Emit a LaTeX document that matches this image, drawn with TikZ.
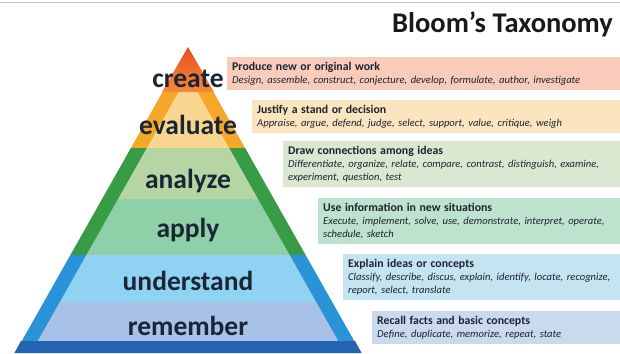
\documentclass[tikz,border=0pt]{standalone}
\usepackage{fontspec}
\setmainfont{Carlito}
\usetikzlibrary{positioning}
\definecolor{cInk}{HTML}{1E2430}
\definecolor{cNavy}{HTML}{1A2535}
\definecolor{cRedO}{HTML}{EB4C25}
\definecolor{cRedI}{HTML}{F58A38}
\definecolor{cYelO}{HTML}{F5A72A}
\definecolor{cYelI}{HTML}{F9D690}
\definecolor{cGrnO}{HTML}{379C45}
\definecolor{cGrnA}{HTML}{B5D6A2}
\definecolor{cGrnB}{HTML}{8FD0A8}
\definecolor{cBluO}{HTML}{2A92D6}
\definecolor{cBluA}{HTML}{8FD2F2}
\definecolor{cBluB}{HTML}{A7C1E7}
\definecolor{cBase}{HTML}{2364B2}
\definecolor{bxCreate}{HTML}{F8CBBB}
\definecolor{bxEval}{HTML}{FBE4C0}
\definecolor{bxAnal}{HTML}{DCE7D1}
\definecolor{bxApply}{HTML}{BDE3CF}
\definecolor{bxUnder}{HTML}{C4E4F1}
\definecolor{bxRem}{HTML}{C9D9EE}

\begin{document}
\begin{tikzpicture}[x=1pt,y=-1pt,
      lvl/.style={font=\fontsize{27.5}{30}\selectfont\bfseries,text=cNavy,anchor=base,inner sep=0pt},
      info/.style={anchor=north west,align=left,inner sep=5pt,text=cInk,
        font=\fontsize{10.6}{13}\selectfont}]
    \useasboundingbox (0,0) rectangle (620,353);
    \fill[white] (0,0) rectangle (620,353);
    \draw[black!25] (0,2.5) -- (620,2.5);
    % pyramid bands: top, bottom, outer colour, inner colour
    \foreach \ya/\yb/\co/\ci in {92/148/cYelO/cYelI,148/199/cGrnO/cGrnA,
        199/255/cGrnO/cGrnB,255/302/cBluO/cBluA,302/341/cBluO/cBluB}{
      \pgfmathsetmacro\wa{0.5654*(\ya-47)}
      \pgfmathsetmacro\wb{0.5654*(\yb-47)}
      \fill[\co] (188-\wa,\ya) -- (188+\wa,\ya) -- (188+\wb,\yb) -- (188-\wb,\yb) -- cycle;
      \fill[\ci] (204-\wa,\ya) -- (172+\wa,\ya) -- (172+\wb,\yb) -- (204-\wb,\yb) -- cycle;
    }
    \shade[top color=cRedO,bottom color=cRedI] (188,47) -- (214,92) -- (162,92) -- cycle;
    \fill[cBase] (21,341) -- (355,341) -- (361.6,353) -- (14.4,353) -- cycle;
    % level names
    \node[lvl] (create) at (188,87) {create};
    \node[lvl] (evaluate) at (188,134) {evaluate};
    \node[lvl] (analyze) at (188,188) {analyze};
    \node[lvl] (apply) at (188,237) {apply};
    \node[lvl] (understand) at (188,290) {understand};
    \node[lvl] (remember) at (188,335) {remember};
    \node[anchor=east,inner sep=0pt,text=black!90,font=\fontsize{28.5}{30}\selectfont\bfseries]
      (title) at (613,24) {Bloom’s Taxonomy};
    % description boxes (they run past the right edge, which crops them)
    \node[info,fill=bxCreate,text width=400pt,minimum height=31pt] (createbox) at (227,57)
      {{\fontsize{11.8}{13}\selectfont\bfseries Produce new or original work}\\
       \itshape Design, assemble, construct, conjecture, develop, formulate, author, investigate};
    \node[info,fill=bxEval,text width=375pt,minimum height=31pt] (evalbox) at (252,100)
      {{\fontsize{11.8}{13}\selectfont\bfseries Justify a stand or decision}\\
       \itshape Appraise, argue, defend, judge, select, support, value, critique, weigh};
    \node[info,fill=bxAnal,text width=345pt,minimum height=44pt] (analbox) at (283,141)
      {{\fontsize{11.8}{13}\selectfont\bfseries Draw connections among ideas}\\
       \itshape Differentiate, organize, relate, compare, contrast, distinguish, examine,\\
       \itshape experiment, question, test};
    \node[info,fill=bxApply,text width=310pt,minimum height=43pt] (applybox) at (318,198)
      {{\fontsize{11.8}{13}\selectfont\bfseries Use information in new situations}\\
       \itshape Execute, implement, solve, use, demonstrate, interpret, operate,\\
       \itshape schedule, sketch};
    \node[info,fill=bxUnder,text width=285pt,minimum height=43pt] (underbox) at (343,254)
      {{\fontsize{11.8}{13}\selectfont\bfseries Explain ideas or concepts}\\
       \itshape Classify, describe, discus, explain, identify, locate, recognize,\\
       \itshape report, select, translate};
    \node[info,fill=bxRem,text width=255pt,minimum height=31pt] (rembox) at (372,311)
      {{\fontsize{11.8}{13}\selectfont\bfseries Recall facts and basic concepts}\\
       \itshape Define, duplicate, memorize, repeat, state};
  \end{tikzpicture}
\end{document}
